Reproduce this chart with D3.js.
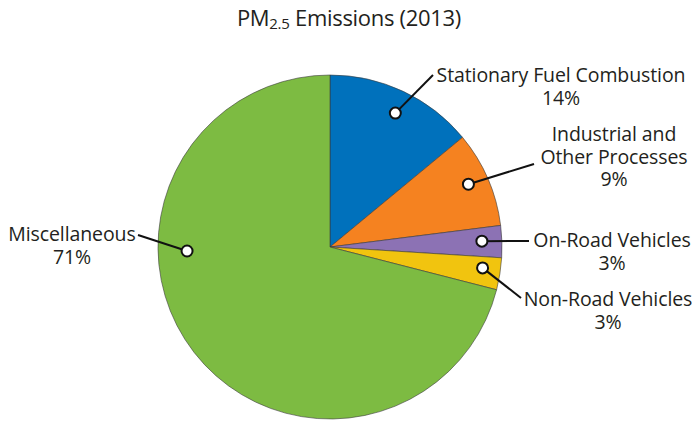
<!DOCTYPE html>
<html>
<head>
<meta charset="utf-8">
<script src="https://cdn.jsdelivr.net/npm/d3@7"></script>
<style>
  body { margin: 0; background: #fff; }
  text { font-family: "Open Sans", sans-serif; fill: #231f20; }
</style>
</head>
<body>
<div id="chart"></div>
<script>
// chart data
const categories = ["Stationary Fuel Combustion", "Industrial and Other Processes", "On-Road Vehicles", "Non-Road Vehicles", "Miscellaneous"];
const values = [14, 9, 3, 3, 71];
const percentLabels = ["14%", "9%", "3%", "3%", "71%"];
const labelLines = [["Stationary Fuel Combustion"], ["Industrial and", "Other Processes"], ["On-Road Vehicles"], ["Non-Road Vehicles"], ["Miscellaneous"]];
const colors = ["#0071bc", "#f58220", "#8c72b4", "#f1c40f", "#7dbb42"];

// label layout: text centre, first baseline, leader line end
const labelLayout = [
  { x: 561, y: 82, lx: 433, ly: 75 },
  { x: 614, y: 141, lx: 534, ly: 164 },
  { x: 612, y: 247, lx: 529, ly: 241 },
  { x: 608, y: 306, lx: 521, ly: 298 },
  { x: 72, y: 241, lx: 138, ly: 235 }
];
// angle (degrees, clockwise from top) at which the marker dot sits
const dotAngles = [26, 65.6, 87.8, 97.8, 268.4];
const dotRadius = [149, 152, 152, 154, 143];

function drawChart(width, height) {
  const $svg = d3.select("#chart").append("svg")
    .attr("width", width)
    .attr("height", height);

  // title with subscript
  const $title = $svg.append("text")
    .attr("x", 349)
    .attr("y", 26)
    .attr("text-anchor", "middle")
    .style("font-size", "22px")
    .style("letter-spacing", "-0.3px");
  $title.append("tspan").text("PM");
  $title.append("tspan").attr("dy", 3).style("font-size", "15px").text("2.5");
  $title.append("tspan").attr("dy", -3).text(" Emissions (2013)");

  const cx = 330, cy = 247, r = 172;
  const $g = $svg.append("g").attr("transform", `translate(${cx},${cy})`);

  const pie = d3.pie().sort(null).value(d => d);
  const arcs = pie(values);
  const arc = d3.arc().innerRadius(0).outerRadius(r);

  $g.selectAll("path.slice")
    .data(arcs)
    .enter()
    .append("path")
    .attr("class", "slice")
    .attr("d", arc)
    .attr("fill", (d, i) => colors[i])
    .attr("stroke", "#3a3a3a")
    .attr("stroke-width", 0.6);

  // leader lines and dots
  arcs.forEach((d, i) => {
    const a = dotAngles[i] * Math.PI / 180;
    const px = cx + Math.sin(a) * dotRadius[i];
    const py = cy - Math.cos(a) * dotRadius[i];
    const L = labelLayout[i];
    $svg.append("line")
      .attr("x1", px).attr("y1", py)
      .attr("x2", L.lx).attr("y2", L.ly)
      .attr("stroke", "#111")
      .attr("stroke-width", 2);
    $svg.append("circle")
      .attr("cx", px).attr("cy", py)
      .attr("r", 5.5)
      .attr("fill", "#fff")
      .attr("stroke", "#111")
      .attr("stroke-width", 2);

    const $t = $svg.append("text")
      .attr("text-anchor", "middle")
      .style("font-size", "19.5px")
      .style("letter-spacing", "-0.1px");
    const lines = labelLines[i].concat([percentLabels[i]]);
    lines.forEach((s, k) => {
      $t.append("tspan")
        .attr("x", L.x)
        .attr("y", L.y + k * 22.5)
        .text(s);
    });
  });
}

drawChart(699, 422);
</script>
</body>
</html>
